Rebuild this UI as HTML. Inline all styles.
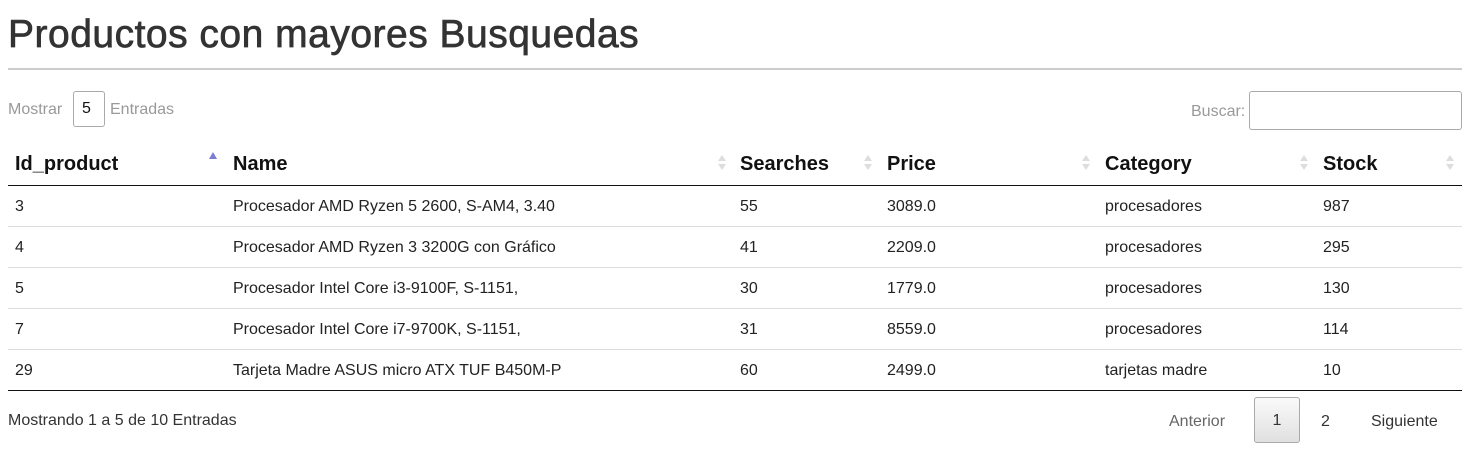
<!DOCTYPE html>
<html><head><meta charset="utf-8"><style>
body{margin:0;width:1483px;height:457px;background:#fff;font-family:"Liberation Sans",sans-serif;position:relative;overflow:hidden;color:#222}
.a{position:absolute;white-space:nowrap}
.th{font-weight:bold;font-size:20px;top:153px;color:#111}
.td{font-size:16px;color:#222}
.sort{position:absolute;width:8px;height:16px}
.sort:before,.sort:after{content:"";position:absolute;left:0;border-left:4px solid transparent;border-right:4px solid transparent}
.sort:before{top:0;border-bottom:6px solid #ddd}
.sort:after{top:9px;border-top:6px solid #ddd}
.hl{position:absolute;left:8px;width:1454px;height:1px;background:#ddd}
</style></head><body>
<div class="a" style="left:8px;top:13px;font-size:39px;color:#333;letter-spacing:0.5px;-webkit-text-stroke:0.7px #333">Productos con mayores Busquedas</div>
<div class="a" style="left:8px;top:68px;width:1454px;height:2px;background:#ccc"></div>
<div class="a" style="left:8px;top:101px;font-size:16px;color:#999">Mostrar</div>
<div class="a" style="left:73px;top:91px;width:30px;height:34px;border:1px solid #aaa;border-radius:3px;font-size:16px;line-height:34px;text-indent:8px;color:#111">5</div>
<div class="a" style="left:110px;top:101px;font-size:16px;color:#999">Entradas</div>
<div class="a" style="left:1191px;top:103px;font-size:16px;color:#999">Buscar:</div>
<div class="a" style="left:1249px;top:91px;width:211px;height:37px;border:1px solid #aaa;border-radius:3px"></div>

<div class="a th" style="left:15px">Id_product</div>
<div class="a" style="left:209px;top:152px;border-left:4px solid transparent;border-right:4px solid transparent;border-bottom:7px solid #7b7bd8"></div>
<div class="a th" style="left:233px">Name</div>
<div class="sort" style="left:718px;top:155px"></div>
<div class="a th" style="left:740px">Searches</div>
<div class="sort" style="left:864px;top:155px"></div>
<div class="a th" style="left:887px">Price</div>
<div class="sort" style="left:1082px;top:155px"></div>
<div class="a th" style="left:1105px">Category</div>
<div class="sort" style="left:1300px;top:155px"></div>
<div class="a th" style="left:1323px">Stock</div>
<div class="sort" style="left:1446px;top:155px"></div>
<div class="a" style="left:8px;top:185px;width:1454px;height:1px;background:#111"></div>

<div id="rows"></div>
<div class="a" style="left:8px;top:390px;width:1454px;height:1px;background:#111"></div>

<div class="a" style="left:8px;top:412px;font-size:16px;color:#333">Mostrando 1 a 5 de 10 Entradas</div>
<div class="a" style="left:1169px;top:413px;font-size:16px;color:#666">Anterior</div>
<div class="a" style="left:1254px;top:397px;width:44px;height:44px;border:1px solid #aaa;border-radius:3px;background:linear-gradient(#fafafa,#e0e0e0);font-size:16px;line-height:46px;text-align:center;color:#333">1</div>
<div class="a" style="left:1321px;top:413px;font-size:16px;color:#333">2</div>
<div class="a" style="left:1371px;top:413px;font-size:16px;color:#333">Siguiente</div>

<script>
const ids=["3","4","5","7","29"];
const names=["Procesador AMD Ryzen 5 2600, S-AM4, 3.40","Procesador AMD Ryzen 3 3200G con Gráfico","Procesador Intel Core i3-9100F, S-1151,","Procesador Intel Core i7-9700K, S-1151,","Tarjeta Madre ASUS micro ATX TUF B450M-P"];
const searches=[55,41,30,31,60];
const prices=["3089.0","2209.0","1779.0","8559.0","2499.0"];
const categories=["procesadores","procesadores","procesadores","procesadores","tarjetas madre"];
const stock=[987,295,130,114,10];
const cont=document.getElementById('rows');
const xs=[15,233,740,887,1105,1323];
const keys=['id','name','searches','price','category','stock'];
for(let i=0;i<ids.length;i++){
  const top=186+i*41;
  const vals=[ids[i],names[i],searches[i],prices[i],categories[i],stock[i]];
  vals.forEach((v,j)=>{
    const d=document.createElement('div');
    d.className='a td';
    d.style.left=xs[j]+'px';d.style.top=(top+12)+'px';
    d.textContent=v;
    
    
    cont.appendChild(d);
  });
  if(i<ids.length-1){
    const l=document.createElement('div');
    l.className='hl';l.style.top=(top+40)+'px';
    
    
    cont.appendChild(l);
  }
}
</script>
</body></html>
